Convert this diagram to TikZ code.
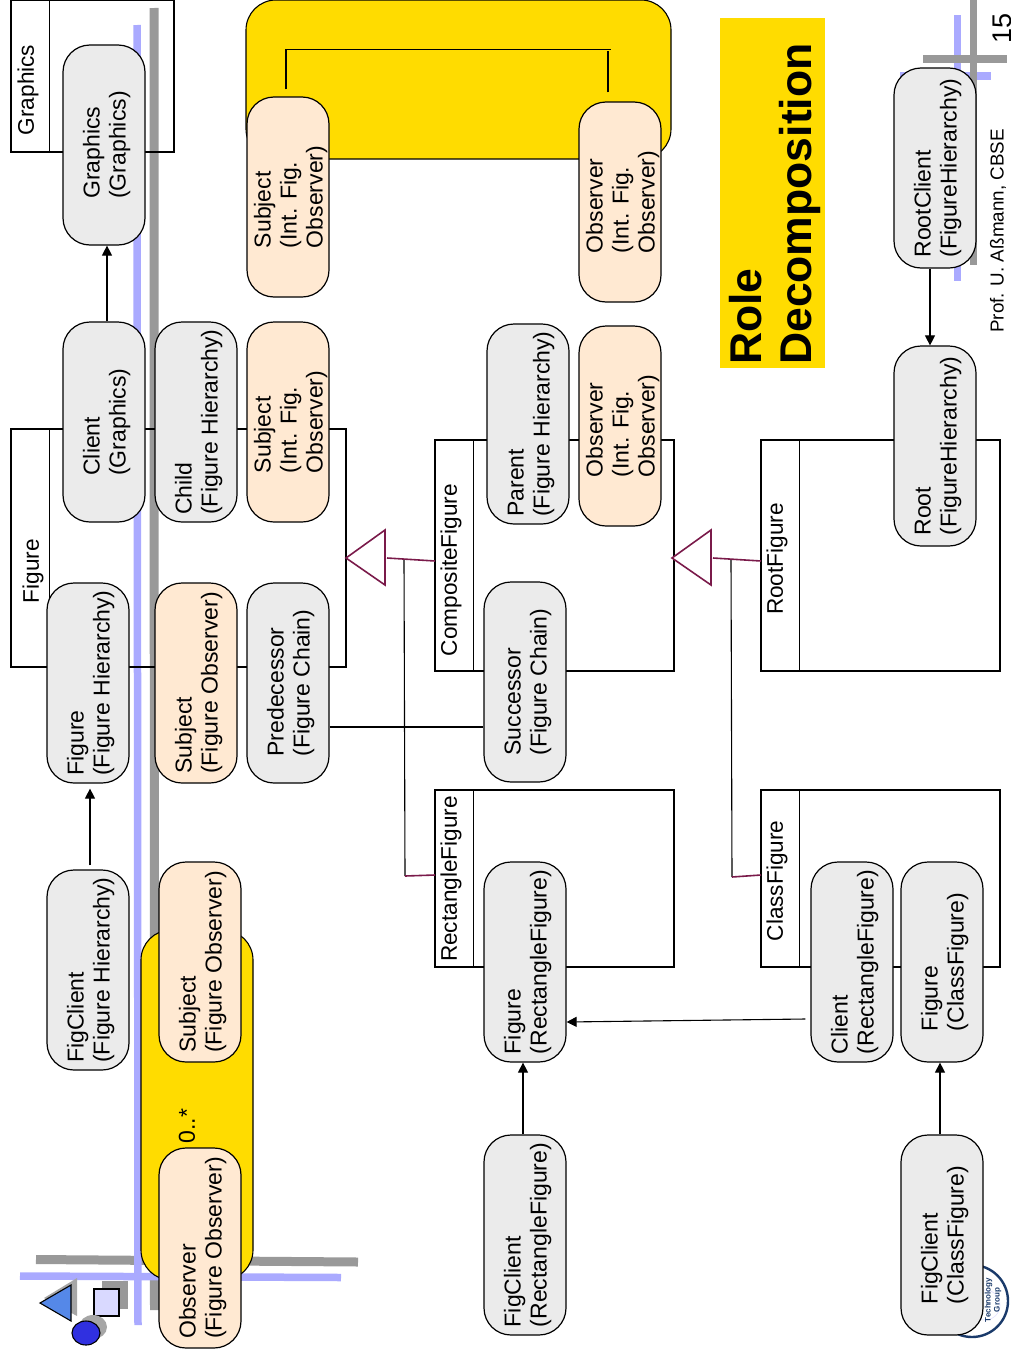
\documentclass[tikz,border=0pt]{standalone}
\usepackage{fontspec}
\setmainfont{Liberation Sans}
\usetikzlibrary{arrows.meta,positioning}
\tikzset{
  role/.style={draw=black,line width=1.2pt,rounded corners=27pt,rotate=90,align=left,
    minimum width=200pt,minimum height=82pt,inner sep=0pt,font=\fontsize{23}{26}\selectfont,
    text height=48pt,text depth=5pt},
  rgray/.style={role,fill=cfg},
  rpeach/.style={role,fill=cfp},
  rint/.style={rpeach,text height=74pt},
  cbox/.style={draw=black,line width=1.1pt,inner sep=0pt},
  clabel/.style={rotate=90,inner sep=0pt,font=\fontsize{22.6}{26}\selectfont},
  collab/.style={draw=black,line width=1.1pt,fill=cy,rounded corners=30pt,inner sep=0pt},
  post/.style={line width=1.1pt,-{Triangle[length=10pt,width=10pt]}},
  conn/.style={line width=1.1pt},
  gen/.style={draw=cgen,line width=1.6pt},
  gline/.style={draw=cg,line width=9pt},
  bline/.style={draw=cb,line width=7.5pt},
}
\begin{document}
\begin{tikzpicture}[x=1pt,y=-1pt]
%
\useasboundingbox (0,0) rectangle (1011,1357);
%
\definecolor{cfg}{HTML}{EBEBEB}
\definecolor{cfp}{HTML}{FFE9D2}
\definecolor{cy}{HTML}{FFDC00}
\definecolor{cg}{HTML}{999999}
\definecolor{cb}{HTML}{AAAAFF}
\definecolor{cgen}{HTML}{7A1A4A}
\definecolor{cnavy}{HTML}{1A3A6A}
\definecolor{cf0}{HTML}{5588E8}
\definecolor{cf1}{HTML}{3030E0}
%
% background lines and logos
\draw[gline] (36,1259.5) -- (358,1262);
\draw[gline] (154,8) -- (154.5,1310);
\draw[bline] (137,25) -- (138,1325);
\draw[bline] (20,1276) -- (341,1277.5);
\draw[bline] (957.5,15) -- (957.5,281);
\draw[bline] (900,76) -- (991,76);
\draw[gline,line width=7.5pt] (923,59) -- (1007,59);
\draw[gline,line width=7.5pt] (973.5,0) -- (973.5,265);
\fill[black!35] (77,1278) -- (77,1316) -- (44,1298) -- cycle;
\draw[line width=1.1pt,fill=cf0] (40,1303) -- (71,1285) -- (71,1321) -- cycle;
\fill[cg] (102,1281) rectangle (128,1309);
\draw[line width=1.1pt,fill=cb!45] (94,1289) rectangle (119,1316);
\fill[black!35] (93,1327) circle[x radius=14,y radius=12];
\draw[line width=1.1pt,fill=cf1] (86,1333) circle[x radius=14,y radius=12];
\draw[cb!35,line width=0.6pt] (985,1305) circle[radius=15];
\draw[cnavy,line width=2.4pt] (972,1301) circle[radius=36];
\node[rotate=90,inner sep=0pt,align=center,text=cnavy,font=\fontsize{8}{9}\selectfont\bfseries] (t0) at (993,1300) {Technology\\Group};
%
% class boxes
\node[cbox,minimum width=163pt,minimum height=152pt] (c0) at (92.5,76) {};
\node[cbox,minimum width=335pt,minimum height=238pt] (c1) at (178.5,548) {};
\node[cbox,minimum width=239pt,minimum height=231pt] (c2) at (554.5,555.5) {};
\node[cbox,minimum width=239pt,minimum height=231pt] (c3) at (880.5,555.5) {};
\node[cbox,minimum width=239pt,minimum height=177pt] (c4) at (554.5,878.5) {};
\node[cbox,minimum width=239pt,minimum height=177pt] (c5) at (880.5,878.5) {};
\draw[conn] ([shift={(39,0)}]c0.north west) -- ([shift={(39,0)}]c0.south west);
\draw[conn] ([shift={(39,0)}]c1.north west) -- ([shift={(39,0)}]c1.south west);
\draw[conn] ([shift={(39,0)}]c2.north west) -- ([shift={(39,0)}]c2.south west);
\draw[conn] ([shift={(39,0)}]c3.north west) -- ([shift={(39,0)}]c3.south west);
\draw[conn] ([shift={(39,0)}]c4.north west) -- ([shift={(39,0)}]c4.south west);
\draw[conn] ([shift={(39,0)}]c5.north west) -- ([shift={(39,0)}]c5.south west);
\node[clabel] (l0) at (28,90) {Graphics};
\node[clabel] (l1) at (33,571) {Figure};
\node[clabel] (l2) at (451,570) {CompositeFigure};
\node[clabel] (l3) at (777,559) {RootFigure};
\node[clabel] (l4) at (451,879) {RectangleFigure};
\node[clabel] (l5) at (777,881) {ClassFigure};
%
% inheritance
\coordinate (b0) at (385,558);
\coordinate (b1) at (711,558);
\coordinate (j0) at (404,559.5);
\coordinate (j1) at (731,559.5);
\coordinate (j2) at (405,876);
\coordinate (j3) at (732,877);
\coordinate (e0) at (435,561);
\coordinate (e1) at (761,561);
\coordinate (e2) at (435,875);
\coordinate (e3) at (761,875);
\draw[gen,fill=white] (346,558) -- (385,530) -- (385,585) -- cycle;
\draw[gen,fill=white] (672,558) -- (711,530) -- (711,585) -- cycle;
\draw[conn] (j0) -- (j2);
\draw[conn] (j1) -- (j3);
\draw[gen] ([xshift=2pt]b0) -- (e0);
\draw[gen] ([xshift=2pt]b1) -- (e1);
\draw[gen] (j2) -- (e2);
\draw[gen] (j3) -- (e3);
%
% collaborations
\node[collab,minimum width=112pt,minimum height=350pt] (y0) at (197,1105) {};
\node[collab,minimum width=425pt,minimum height=159pt] (y1) at (458.5,79.5) {};
%
% roles
\node[rgray] (v0) at (104,145) {Graphics\\(Graphics)};
\node[rgray] (v1) at (104,422) {Client\\(Graphics)};
\node[rgray] (v2) at (196,422) {Child\\(Figure Hierarchy)};
\node[rint] (v3) at (288,422) {Subject\\(Int. Fig.\\Observer)};
\node[rint] (v4) at (288,197) {Subject\\(Int. Fig.\\Observer)};
\node[rint] (v5) at (620,202) {Observer\\(Int. Fig.\\Observer)};
\node[rint] (v6) at (620,426) {Observer\\(Int. Fig.\\Observer)};
\node[rgray] (v7) at (528,424) {Parent\\(Figure Hierarchy)};
\node[rgray] (v8) at (88,683) {Figure\\(Figure Hierarchy)};
\node[rpeach] (v9) at (196,683) {Subject\\(Figure Observer)};
\node[rgray] (v10) at (288,683) {Predecessor\\(Figure Chain)};
\node[rgray] (v11) at (525,682) {Successor\\(Figure Chain)};
\node[rgray] (v12) at (88,970) {FigClient\\(Figure Hierarchy)};
\node[rpeach] (v13) at (200,962) {Subject\\(Figure Observer)};
\node[rpeach] (v14) at (200,1248) {Observer\\(Figure Observer)};
\node[rgray] (v15) at (525,962) {Figure\\(RectangleFigure)};
\node[rgray] (v16) at (525,1235) {FigClient\\(RectangleFigure)};
\node[rgray] (v17) at (852,962) {Client\\(RectangleFigure)};
\node[rgray] (v18) at (942,962) {Figure\\(ClassFigure)};
\node[rgray] (v19) at (942,1235) {FigClient\\(ClassFigure)};
\node[rgray] (v20) at (935,446) {Root\\(FigureHierarchy)};
\node[rgray] (v21) at (935,168) {RootClient\\(FigureHierarchy)};
%
% connectors
\draw[post] ([xshift=3pt]v1.east) -- ([xshift=3pt]v0.west);
\draw[post] ([shift={(2,-4)}]v12.east) -- ([shift={(2,5)}]v8.west);
\draw[post] ([xshift=-5pt]v21.west) -- ([xshift=-5pt]v20.east);
\draw[post] ([xshift=-2pt]v16.east) -- ([xshift=-2pt]v15.west);
\draw[post] ([xshift=-2pt]v19.east) -- ([xshift=-2pt]v18.west);
\draw[post] ([shift={(-5,57)}]v17.north) -- ([shift={(0,60)}]v15.south);
\draw[conn] ([yshift=-44pt]v10.south) -- ([yshift=-45pt]v11.north);
\coordinate (k0) at (611,49.5);
\coordinate (k1) at (608,51);
\draw[conn] ([shift={(-2,-7)}]v4.east) |- (k0);
\draw[conn] ([shift={(-12,-9)}]v5.east) -- (k1);
%
% texts
\node[rotate=90,inner sep=0pt,font=\fontsize{23}{26}\selectfont] (m0) at (187,1126) {0..*};
\fill[cy] (720,18) rectangle (825,368);
\node[rotate=90,inner sep=0pt,anchor=north west,align=left,font=\fontsize{44.5}{50}\selectfont\bfseries] (t1) at (729,365) {Role\\Decomposition};
\node[rotate=90,inner sep=0pt,font=\fontsize{18.8}{24}\selectfont] (t2) at (998,231) {Prof. U. Aßmann, CBSE};
\node[rotate=90,inner sep=0pt,font=\fontsize{27}{30}\selectfont] (t3) at (1002,28) {15};
%
\end{tikzpicture}
\end{document}
